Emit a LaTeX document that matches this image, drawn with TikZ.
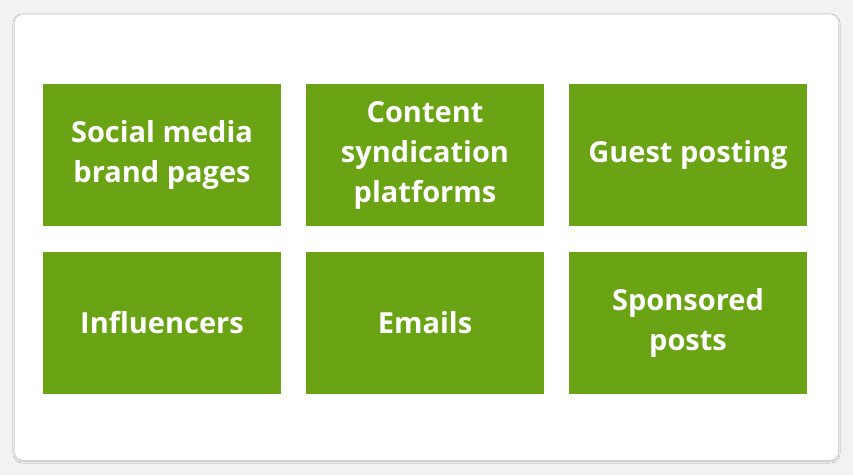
\documentclass[tikz,border=0pt]{standalone}
\usepackage{fontspec}
\setmainfont{Open Sans}
\usetikzlibrary{shadows.blur}
\definecolor{bggray}{HTML}{F2F2F2}
\definecolor{boxgreen}{HTML}{6AA314}
\begin{document}
\begin{tikzpicture}[x=1pt,y=1pt,
  box/.style={fill=boxgreen,draw=none,minimum width=238pt,minimum height=142pt,inner sep=0pt,
    text=white,font=\fontsize{29}{40}\selectfont\bfseries,align=center}]
\useasboundingbox[fill=bggray] (0,0) rectangle (853,475);
\node[fill=white,rounded corners=8pt,minimum width=823pt,minimum height=445pt,blur shadow={shadow blur steps=6,shadow xshift=0pt,shadow yshift=-1pt,shadow opacity=25}] (card) at (426.5,237.5) {};
\node[box] (a) at (162,320) {Social media\\brand pages};
\node[box] (b) at (425,320) {Content\\syndication\\platforms};
\node[box] (c) at (688,320) {Guest posting};
\node[box] (d) at (162,152.5) {Influencers};
\node[box] (e) at (425,152.5) {Emails};
\node[box] (f) at (688,152.5) {Sponsored\\posts};
\end{tikzpicture}
\end{document}
